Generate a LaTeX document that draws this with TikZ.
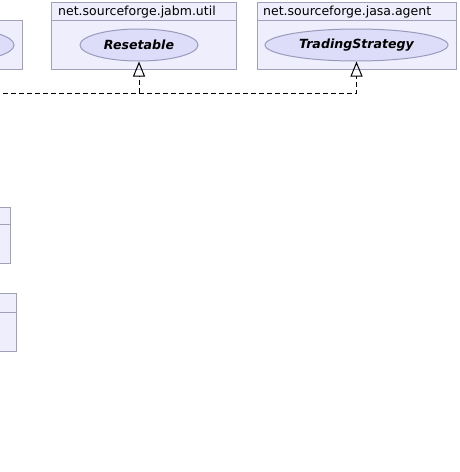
\documentclass[tikz,border=0pt]{standalone}
\usepackage{fontspec}
\setmainfont{DejaVu Sans}
\usetikzlibrary{shapes.geometric,arrows.meta}
\definecolor{boxfill}{RGB}{238,238,252}
\definecolor{boxline}{RGB}{160,160,184}
\definecolor{ellfill}{RGB}{221,221,250}
\definecolor{ellline}{RGB}{154,154,188}
\tikzset{
  pkgbox/.style={draw=boxline, fill=boxfill, line width=1pt, rectangle, inner sep=0pt},
  pkgtitle/.style={anchor=base west, inner sep=0pt, font=\fontsize{12.5}{14}\selectfont},
  iface/.style={draw=ellline, fill=ellfill, line width=1pt, ellipse, inner sep=0pt,
    minimum height=32pt, font=\fontsize{12.6}{14}\selectfont\bfseries\itshape},
  realize/.style={dashed, dash pattern=on 5pt off 3pt, line width=1pt, black,
    -{Triangle[open, length=15pt, width=12pt, line width=1pt]}}
}
\begin{document}
\begin{tikzpicture}[x=1pt,y=-1pt]
\useasboundingbox (0,0) rectangle (459,472);
\begin{scope}
\clip (0,0) rectangle (459,472);
% left partial package
\node[pkgbox, minimum width=80pt, minimum height=49pt] (leftpkg) at (-18,44.5) {};
\node[iface, minimum width=110pt] (leftiface) at (-41,45) {};
% jabm package
\node[pkgbox, minimum width=185pt, minimum height=67pt] (jabm) at (143.5,35.5) {};
\draw[boxline, line width=1pt] (jabm.west |- 0,20) -- (jabm.east |- 0,20);
\node[pkgtitle] (jabmtitle) at (58,15) {net.sourceforge.jabm.util};
\node[iface, minimum width=118pt] (res) at (139,45) {Resetable};
% jasa agent package
\node[pkgbox, minimum width=199pt, minimum height=67pt] (agent) at (356.5,35.5) {};
\draw[boxline, line width=1pt] (agent.west |- 0,20) -- (agent.east |- 0,20);
\node[pkgtitle] (agenttitle) at (263,15) {net.sourceforge.jasa.agent};
\node[iface, minimum width=183pt] (ts) at (356.5,45) {TradingStrategy};
% lower partial class boxes
\node[pkgbox, minimum width=60pt, minimum height=56pt] (cls1) at (-20,235) {};
\draw[boxline, line width=1pt] (cls1.west |- 0,224) -- (cls1.east |- 0,224);
\node[pkgbox, minimum width=60pt, minimum height=58pt] (cls2) at (-14,322) {};
\draw[boxline, line width=1pt] (cls2.west |- 0,312) -- (cls2.east |- 0,312);
% realization connectors
\coordinate (src) at (-5,93);
\draw[realize] (src) -| (res.south);
\draw[realize] (src) -| (ts.south);
\end{scope}
\end{tikzpicture}
\end{document}
